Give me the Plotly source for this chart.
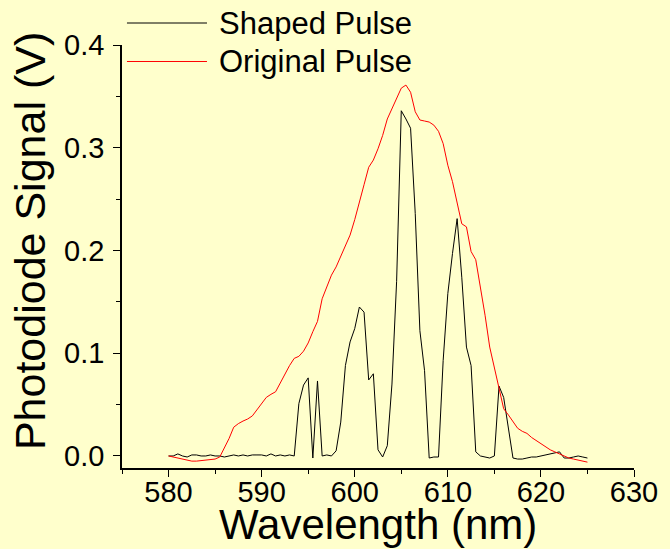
import plotly.graph_objects as go

wavelength = [
    580.0, 580.5, 581.0, 581.5, 582.0, 582.5, 583.0, 583.5, 584.0, 584.5,
    585.0, 585.5, 586.0, 586.5, 587.0, 587.5, 588.0, 588.5, 589.0, 589.5,
    590.0, 590.5, 591.0, 591.5, 592.0, 592.5, 593.0, 593.5, 594.0, 594.5,
    595.0, 595.5, 596.0, 596.5, 597.0, 597.5, 598.0, 598.5, 599.0, 599.5,
    600.0, 600.5, 601.0, 601.5, 602.0, 602.5, 603.0, 603.5, 604.0, 604.5,
    605.0, 605.5, 606.0, 606.5, 607.0, 607.5, 608.0, 608.5, 609.0, 609.5,
    610.0, 610.5, 611.0, 611.5, 612.0, 612.5, 613.0, 613.5, 614.0, 614.5,
    615.0, 615.5, 616.0, 616.5, 617.0, 617.5, 618.0, 618.5, 619.0, 619.5,
    620.0, 620.5, 621.0, 621.5, 622.0, 622.5, 623.0, 623.5, 624.0, 624.5,
    625.0,
]

shaped_pulse = [
    0.000, 0.000, 0.002, 0.000, -0.001, 0.001, 0.001, 0.000, 0.000, 0.001,
    0.000, 0.000, -0.001, 0.000, 0.001, 0.000, 0.001, 0.000, 0.001, 0.001,
    0.001, 0.000, 0.002, 0.000, 0.001, 0.000, 0.001, 0.000, 0.051, 0.069,
    0.076, -0.002, 0.073, 0.000, 0.001, 0.000, 0.005, 0.033, 0.088, 0.111,
    0.124, 0.145, 0.140, 0.074, 0.080, 0.006, -0.001, 0.010, 0.070, 0.170,
    0.336, 0.328, 0.319, 0.236, 0.122, 0.083, -0.002, -0.001, -0.001, 0.093,
    0.158, 0.197, 0.231, 0.174, 0.106, 0.088, 0.004, 0.000, -0.001, -0.002,
    0.000, 0.068, 0.057, 0.025, -0.002, -0.003, -0.003, -0.002, -0.001, -0.001,
    0.000, 0.001, 0.002, 0.003, 0.004, -0.002, -0.002, -0.001, 0.000, -0.001,
    -0.002,
]

original_pulse = [
    0.000, -0.001, -0.0025, -0.0035, -0.004, -0.005, -0.005, -0.0045, -0.004, -0.004,
    -0.003, -0.001, 0.008, 0.017, 0.028, 0.0315, 0.034, 0.036, 0.039, 0.045,
    0.052, 0.057, 0.060, 0.0625, 0.071, 0.080, 0.088, 0.095, 0.097, 0.102,
    0.110, 0.121, 0.131, 0.153, 0.165, 0.176, 0.184, 0.194, 0.204, 0.215,
    0.230, 0.246, 0.264, 0.281, 0.288, 0.299, 0.312, 0.328, 0.338, 0.348,
    0.358, 0.361, 0.354, 0.335, 0.327, 0.326, 0.325, 0.322, 0.316, 0.304,
    0.283, 0.267, 0.246, 0.226, 0.223, 0.199, 0.191, 0.165, 0.137, 0.106,
    0.087, 0.068, 0.046, 0.040, 0.033, 0.027, 0.024, 0.022, 0.018, 0.015,
    0.012, 0.009, 0.006, 0.004, 0.002, 0.000, -0.002, -0.003, -0.004, -0.005,
    -0.006,
]

series_names = ["Shaped Pulse", "Original Pulse"]
series_colors = ["#000000", "#FF0000"]
x_tick_values = [580, 590, 600, 610, 620, 630]
y_tick_values = [0.0, 0.1, 0.2, 0.3, 0.4]

FONT = "Liberation Sans, Arial, Helvetica, sans-serif"
BG = "#FFFFCC"

fig = go.Figure()
for name, ys, col in zip(series_names, [shaped_pulse, original_pulse], series_colors):
    fig.add_trace(go.Scatter(x=wavelength, y=ys, mode="lines", name=name,
                             line=dict(color=col, width=1), showlegend=False))

axis_common = dict(showline=True, linecolor="black", linewidth=1.5, mirror=False,
                   showgrid=False, zeroline=False, ticks="outside", ticklen=7,
                   tickwidth=1.2, tickcolor="black",
                   tickfont=dict(family=FONT, size=29, color="black"))

fig.update_xaxes(range=[575, 630], tickvals=x_tick_values, ticklabelstandoff=-10,
                 minor=dict(dtick=5, tick0=575, ticks="outside", ticklen=4,
                            tickwidth=1.2, tickcolor="black", showgrid=False),
                 **axis_common)
fig.update_yaxes(range=[-0.0117, 0.4], tickvals=y_tick_values, tickformat=".1f",
                 ticklabelstandoff=3,
                 minor=dict(dtick=0.05, tick0=0, ticks="outside", ticklen=4,
                            tickwidth=1.2, tickcolor="black", showgrid=False),
                 **axis_common)

annotations = [
    dict(text="Wavelength (nm)", x=0.5, y=-0.133, xref="paper", yref="paper",
         xanchor="center", yanchor="middle", showarrow=False,
         font=dict(family=FONT, size=42, color="black")),
    dict(text="Photodiode Signal (V)", x=-0.18, y=0.536, xref="paper", yref="paper",
         xanchor="center", yanchor="middle", textangle=-90, showarrow=False,
         font=dict(family=FONT, size=43, color="black")),
]
shapes = []
legend_y = [1.052, 0.961]
for name, col, ly in zip(series_names, series_colors, legend_y):
    shapes.append(dict(type="line", xref="paper", yref="paper", x0=0.0097, x1=0.166,
                       y0=ly, y1=ly, line=dict(color=col, width=1)))
    annotations.append(dict(text=name, x=0.1856, y=ly, xref="paper", yref="paper",
                            xanchor="left", yanchor="middle", showarrow=False,
                            font=dict(family=FONT, size=31, color="black")))

fig.update_layout(width=670, height=549, margin=dict(l=122, r=31, t=45, b=81),
                  paper_bgcolor=BG, plot_bgcolor=BG, annotations=annotations,
                  shapes=shapes, showlegend=False)

fig.write_html("out.html", config={"displayModeBar": False},
               post_script="document.body.style.margin='0';document.body.style.background='" + BG + "';")
